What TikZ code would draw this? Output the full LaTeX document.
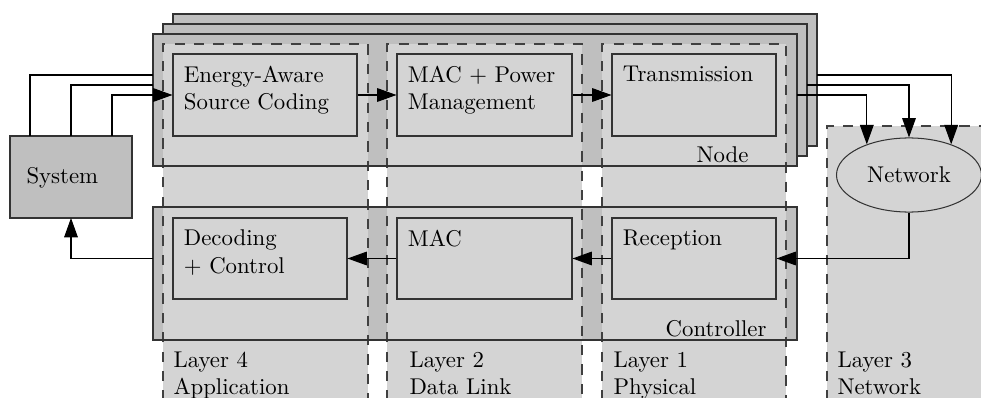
\documentclass[tikz,border=0pt]{standalone}
\usepackage{amsmath}
\usetikzlibrary{arrows.meta,positioning,shapes,fit}

\begin{document}
\begin{tikzpicture}[x=0.4386pt,y=-0.4386pt,line width=0.45pt,
    frame/.style={draw=black!80,fill=black!25,inner sep=0pt,outer sep=0pt},
    layer/.style={draw=black!75,fill=black!17,dash pattern=on 4.5pt off 4pt},
    block/.style={draw=black!80,fill=black!17,inner sep=0pt},
    txt/.style={align=left,anchor=north west,inner xsep=4.8pt,inner ysep=5.3pt},
    lbl/.style={align=left,anchor=north west,inner sep=0pt},
    flow/.style={-{Triangle[length=8.5pt,width=6pt]}}]
  \useasboundingbox (0,0) rectangle (981,398);
  \clip (0,0) rectangle (981,398);

  \node[frame,fit={(173,14) (817,146)}] (node3) {};
  \node[frame,fit={(163,24) (807,156)}] (node2) {};
  \node[frame,fit={(153,34) (797,166)}] (node1) {};
  \node[frame,fit={(153,207) (797,340)}] (ctrl) {};
  \node[frame,fit={(10,136) (132,218)}] (sys) {};
  \node[lbl] (systxt) at (26,167) {System};

  \path[layer] (163,420) -- (163,44) -- (368,44) -- (368,420);
  \path[layer] (387,420) -- (387,44) -- (582,44) -- (582,420);
  \path[layer] (602,420) -- (602,44) -- (786,44) -- (786,420);
  \path[layer] (827,420) -- (827,126) -- (990,126) -- (990,420);
  \draw[black!80] (node1.north west) rectangle (node1.south east);
  \draw[black!80] (ctrl.north west) rectangle (ctrl.south east);

  \node[lbl] (l4txt) at (173,351) {Layer 4\\Application};
  \node[lbl] (l2txt) at (409,351) {Layer 2\\Data Link};
  \node[lbl] (l1txt) at (613,351) {Layer 1\\Physical};
  \node[lbl] (l3txt) at (837,351) {Layer 3\\Network};

  \node[block,fit={(173,54) (357,136)}] (coding) {};
  \node[txt] (codingtxt) at (coding.north west) {Energy-Aware\\Source Coding};
  \node[block,fit={(397,54) (572,136)}] (macpm) {};
  \node[txt] (macpmtxt) at (macpm.north west) {MAC + Power\\Management};
  \node[block,fit={(612,54) (776,136)}] (trans) {};
  \node[txt] (transtxt) at (trans.north west) {Transmission};
  \node[anchor=base east,inner sep=0pt] (nodetxt) at (749,162) {Node};

  \node[block,fit={(173,218) (347,299)}] (decod) {};
  \node[txt] (decodtxt) at (decod.north west) {Decoding\\+ Control};
  \node[block,fit={(397,218) (572,299)}] (mac) {};
  \node[txt] (mactxt) at (mac.north west) {MAC};
  \node[block,fit={(612,218) (776,299)}] (recep) {};
  \node[txt] (receptxt) at (recep.north west) {Reception};
  \node[anchor=base east,inner sep=0pt] (ctrltxt) at (767,336) {Controller};

  \node[ellipse,draw=black!80,fill=black!17,minimum width=63.6pt,minimum height=32.5pt,inner sep=0pt] (net) at (909,175) {Network};

  \coordinate (tap1) at (30,75);
  \coordinate (tap2) at (71,85);
  \coordinate (tap3) at (112,95);
  \draw (sys.north -| tap1) |- (node1.west |- tap1);
  \draw (sys.north -| tap2) |- (node1.west |- tap2);
  \draw[flow] (sys.north -| tap3) |- (coding.west);
  \draw[flow] (coding.east) -- (macpm.west);
  \draw[flow] (macpm.east) -- (trans.west);
  \draw[flow] (node1.east |- trans.east) -| (net.144);
  \draw[flow] (node2.east |- tap2) -| (net.north);
  \draw[flow] (node3.east |- tap1) -| (net.36);
  \draw[flow] (net.south) |- (recep.east);
  \draw[flow] (recep.west) -- (mac.east);
  \draw[flow] (mac.west) -- (decod.east);
  \draw[flow] (ctrl.west |- decod.west) -| (sys.south);
\end{tikzpicture}
\end{document}
